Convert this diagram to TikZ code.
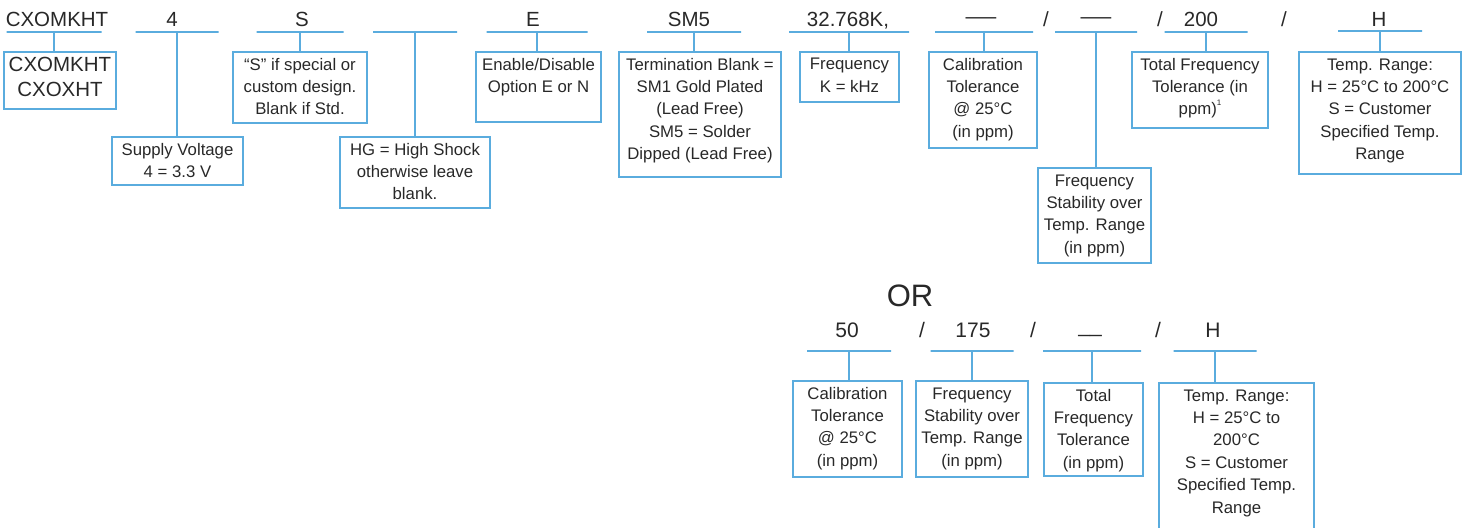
\documentclass[tikz,border=0pt]{standalone}
\usepackage{fontspec}
\setmainfont{Liberation Sans}
\usepackage{graphicx}
\definecolor{lb}{RGB}{90,172,222}
\definecolor{tx}{RGB}{40,40,40}
\newcommand\bxt[3]{\parbox[c][#2pt][t]{#1pt}{\centering\rule{0pt}{18pt}#3}}
\newcommand\topdash{\raisebox{0.15em}{\scalebox{1.5}[1]{—}}}
\newcommand\botdash{\raisebox{0.23em}{\_\_}}
\newcommand\smallsup[1]{\raisebox{0.55em}{\fontsize{8}{8}\selectfont #1}}
\begin{document}
\begin{tikzpicture}[x=1pt,y=-1pt,
  hdr/.style={anchor=base, inner sep=0, text=tx, font=\fontsize{20.5}{24}\selectfont},
  hdrb/.style={anchor=base, inner sep=0, text=tx, font=\fontsize{21}{24}\selectfont},
  uline/.style={draw=lb, line width=1.8pt, inner sep=0, outer sep=0, minimum height=0pt, shape=rectangle},
  conn/.style={draw=lb, line width=1.8pt},
  box/.style={draw=lb, line width=1.6pt, inner sep=0, outer sep=0, anchor=north west, text=tx, font=\fontsize{16.75}{22.4}\selectfont},
]
\useasboundingbox (0,0) rectangle (1471,527);
\clip (0,0) rectangle (1471,527);

% ---------- top row headers ----------
\node[hdr] (h1) at (57,27) {CXOMKHT};
\node[hdr] (h2) at (172,27) {4};
\node[hdr] (h3) at (302,27) {S};
\node[hdr] (h5) at (533,27) {E};
\node[hdr] (h6) at (689,27) {SM5};
\node[hdr] (h7) at (848,27) {32.768K,};
\node[hdr] (h8) at (981,27) {\topdash};
\node[hdr] (s1) at (1046,27) {/};
\node[hdr] (h9) at (1096,27) {\topdash};
\node[hdr] (s2) at (1160,27) {/};
\node[hdr] (h10) at (1201,27) {200};
\node[hdr] (s3) at (1284,27) {/};
\node[hdr] (h11) at (1379,27) {H};

% ---------- top row underlines ----------
\node[uline, minimum width=95pt] (u1) at (54,32) {};
\node[uline, minimum width=83pt] (u2) at (177,32) {};
\node[uline, minimum width=87pt] (u3) at (300,32) {};
\node[uline, minimum width=84pt] (u4) at (415,32) {};
\node[uline, minimum width=101pt] (u5) at (537,32) {};
\node[uline, minimum width=94pt] (u6) at (694,32) {};
\node[uline, minimum width=120pt] (u7) at (849,32) {};
\node[uline, minimum width=98pt] (u8) at (984,32) {};
\node[uline, minimum width=82pt] (u9) at (1096,32) {};
\node[uline, minimum width=83pt] (u10) at (1206,32) {};
\node[uline, minimum width=84pt] (u11) at (1380,31) {};

% ---------- top row boxes ----------
\node[box] (b1) at (4,52) {\parbox[c][57pt][t]{112pt}{\centering\fontsize{20.5}{25}\selectfont\rule{0pt}{19.5pt}CXOMKHT\\CXOXHT}};
\node[box] (b2) at (112,137) {\bxt{131}{48}{Supply Voltage\\4 = 3.3 V}};
\node[box] (b3) at (233,52) {\bxt{134}{71}{“S” if special or\\custom design.\\Blank if Std.}};
\node[box] (b4) at (340,137) {\bxt{150}{71}{HG = High Shock\\otherwise leave\\blank.}};
\node[box] (b5) at (476,52) {\bxt{125}{70}{Enable/Disable\\Option E or N}};
\node[box] (b6) at (619,52) {\bxt{162}{125}{Termination Blank =\\SM1 Gold Plated\\(Lead Free)\\SM5 = Solder\\Dipped (Lead Free)}};
\node[box] (b7) at (800,52) {\bxt{99}{50}{Frequency\\K = kHz}};
\node[box] (b8) at (929,52) {\bxt{108}{96}{Calibration\\Tolerance\\@ 25°C\\(in ppm)}};
\node[box] (b9) at (1038,168) {\bxt{113}{95}{Frequency\\Stability over\\Temp. Range\\(in ppm)}};
\node[box] (b10) at (1132,52) {\bxt{136}{76}{Total Frequency\\Tolerance (in\\ppm)\smallsup{1}}};
\node[box] (b11) at (1299,52) {\bxt{162}{122}{Temp. Range:\\H = 25°C to 200°C\\S = Customer\\Specified Temp.\\Range}};

% ---------- top row connectors ----------
\foreach \u/\b in {u1/b1,u2/b2,u3/b3,u4/b4,u5/b5,u6/b6,u7/b7,u8/b8,u9/b9,u10/b10,u11/b11}
  \draw[conn] (\u.center) -- (\u.center |- \b.north);

% ---------- OR ----------
\node[anchor=base, inner sep=0, text=tx, font=\fontsize{31}{34}\selectfont] (or) at (910,306) {OR};

% ---------- bottom row headers ----------
\node[hdrb] (g1) at (847,337) {50};
\node[hdrb] (t1) at (922,337) {/};
\node[hdrb] (g2) at (973,337) {175};
\node[hdrb] (t2) at (1033,337) {/};
\node[hdrb] (g3) at (1090,337) {\botdash};
\node[hdrb] (t3) at (1158,337) {/};
\node[hdrb] (g4) at (1213,337) {H};

% ---------- bottom row underlines ----------
\node[uline, minimum width=84pt] (v1) at (849,351) {};
\node[uline, minimum width=83pt] (v2) at (972,351) {};
\node[uline, minimum width=98pt] (v3) at (1092,351) {};
\node[uline, minimum width=83pt] (v4) at (1215,351) {};

% ---------- bottom row boxes ----------
\node[box] (c1) at (793,381) {\bxt{109}{96}{Calibration\\Tolerance\\@ 25°C\\(in ppm)}};
\node[box] (c2) at (916,381) {\bxt{112}{96}{Frequency\\Stability over\\Temp. Range\\(in ppm)}};
\node[box] (c3) at (1044,383) {\bxt{99}{93}{Total\\Frequency\\Tolerance\\(in ppm)}};
\node[box] (c4) at (1159,383) {\bxt{155}{149}{Temp. Range:\\H = 25°C to\\200°C\\S = Customer\\Specified Temp.\\Range}};

\foreach \u/\b in {v1/c1,v2/c2,v3/c3,v4/c4}
  \draw[conn] (\u.center) -- (\u.center |- \b.north);
\end{tikzpicture}
\end{document}
